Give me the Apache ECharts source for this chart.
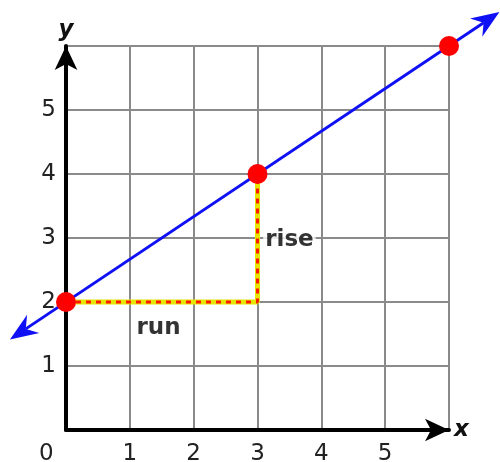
<!DOCTYPE html>
<html>
<head>
<meta charset="utf-8">
<script src="https://cdn.jsdelivr.net/npm/echarts@6/dist/echarts.min.js"></script>
<style>html,body{margin:0;padding:0;background:#fff}#c{width:500px;height:462px}</style>
</head>
<body>
<div id="c"></div>
<script>
var tickValues = [0, 1, 2, 3, 4, 5, 6];
var linePoints = [[0, 2], [3, 4], [6, 6]];
var lineTips = [[-0.878, 1.415], [6.79, 6.53]];
var riseRunPath = [[0, 2], [3, 2], [3, 4]];
var annotText = ['run', 'rise'];
var annotX = [1.45, 3.5];
var annotY = [1.6, 2.97];

var chart = echarts.init(document.getElementById('c'), null, {renderer: 'canvas'});
var font = 'DejaVu Sans';
function axisCommon(name) {
  return {
    type: 'value', min: tickValues[0], max: tickValues[tickValues.length - 1], interval: 1,
    name: name,
    nameLocation: 'end',
    nameTextStyle: {fontFamily: font, fontStyle: 'italic', fontWeight: 'bold', fontSize: 23, color: '#111'},
    axisLine: {show: true, onZero: false, lineStyle: {color: '#000', width: 4},
      symbol: ['none', 'arrow'], symbolSize: [17, 24], symbolOffset: [0, 0]},
    axisTick: {show: false},
    splitLine: {show: true, lineStyle: {color: '#8a8a8a', width: 2}},
    axisLabel: {fontFamily: font, fontSize: 23, color: '#222', margin: 10,
      formatter: function (v) { return (v === 0 || v === 6) ? '' : String(v); }}
  };
}
var xA = axisCommon('x'); xA.nameGap = 5; xA.axisLabel.margin = 13;
var yA = axisCommon('y'); yA.nameGap = 4;

function renderArrowLine(params, api) {
  var a = api.coord(lineTips[0]);
  var b = api.coord(lineTips[1]);
  var dx = b[0] - a[0], dy = b[1] - a[1];
  var len = Math.sqrt(dx * dx + dy * dy);
  var ux = dx / len, uy = dy / len;
  var nx = -uy, ny = ux;
  var L = 28, W = 11, N = 9;
  function head(p, s) {
    var bx = p[0] + s * ux * L, by = p[1] + s * uy * L;
    var cx = p[0] + s * ux * (L - N), cy = p[1] + s * uy * (L - N);
    return [[p[0], p[1]], [bx + nx * W, by + ny * W], [cx, cy], [bx - nx * W, by - ny * W]];
  }
  var col = '#1010f5';
  return {
    type: 'group',
    children: [
      {type: 'line', shape: {x1: a[0] + ux * (L - N), y1: a[1] + uy * (L - N), x2: b[0] - ux * (L - N), y2: b[1] - uy * (L - N)},
        style: {stroke: col, lineWidth: 3}},
      {type: 'polygon', shape: {points: head(a, 1)}, style: {fill: col}},
      {type: 'polygon', shape: {points: head(b, -1)}, style: {fill: col}}
    ]
  };
}

var option = {
  animation: false,
  grid: {left: 66, top: 46, right: 51, bottom: 32, containLabel: false, outerBoundsMode: 'none'},
  xAxis: xA,
  yAxis: yA,
  graphic: [{type: 'text', left: 39, top: 443, z: 10,
    style: {text: '0', fontFamily: font, fontSize: 23, fill: '#222'}}],
  series: [
    {
      type: 'custom', data: [0], clip: false, silent: true, z: 3,
      renderItem: renderArrowLine
    },
    {
      type: 'line', data: riseRunPath, symbol: 'none', clip: false,
      lineStyle: {color: '#e6e600', width: 5}, z: 4
    },
    {
      type: 'line', data: riseRunPath, symbol: 'none', clip: false,
      lineStyle: {color: '#ff1a00', width: 3, type: [5, 5]}, z: 5
    },
    {
      type: 'scatter', data: linePoints, symbolSize: 20, clip: false,
      itemStyle: {color: '#ff0000', opacity: 1}, z: 6
    },
    {
      type: 'scatter', symbolSize: 0, z: 7,
      data: annotText.map(function (t, i) { return {value: [annotX[i], annotY[i]], name: t}; }),
      label: {show: true, position: 'inside', formatter: '{b}',
        fontFamily: font, fontWeight: 'bold', fontSize: 23, color: '#000',
        backgroundColor: '#fff', padding: [0, 2]}
    }
  ]
};
chart.setOption(option);
</script>
</body>
</html>
